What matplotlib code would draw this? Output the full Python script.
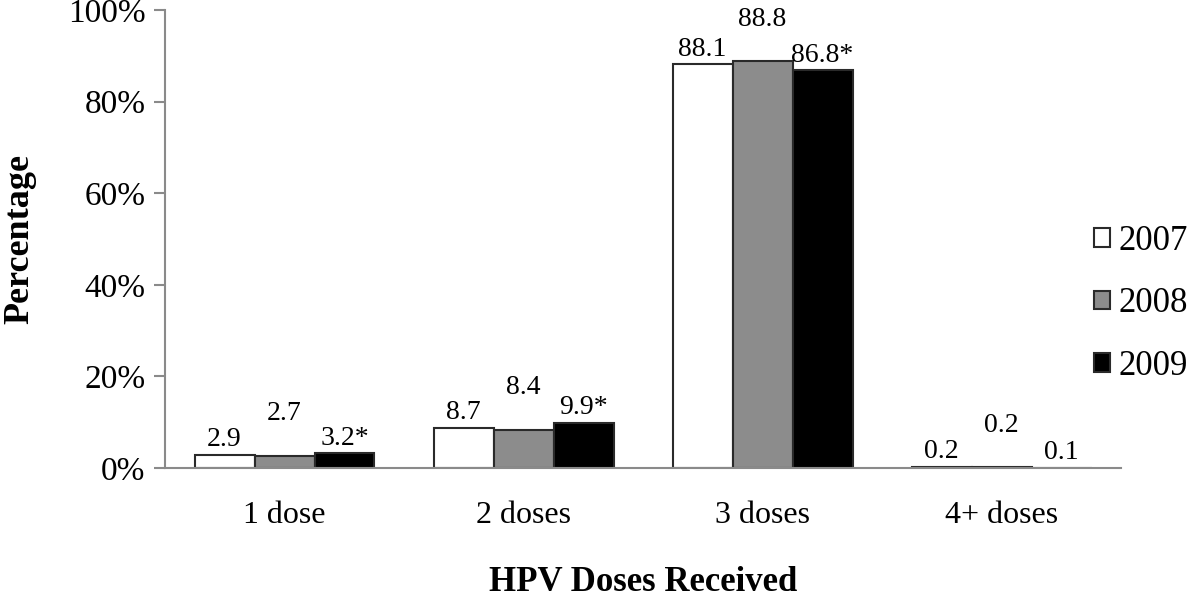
import numpy as np
import matplotlib
matplotlib.use("Agg")
from matplotlib import pyplot as plt
from matplotlib.patches import Patch

plt.rcParams["font.family"] = ["Liberation Serif", "DejaVu Serif"]

categories = ["1 dose", "2 doses", "3 doses", "4+ doses"]
years = ["2007", "2008", "2009"]
pct_2007 = [2.9, 8.7, 88.1, 0.2]
pct_2008 = [2.7, 8.4, 88.8, 0.2]
pct_2009 = [3.2, 9.9, 86.8, 0.1]
labels_2007 = ["2.9", "8.7", "88.1", "0.2"]
labels_2008 = ["2.7", "8.4", "88.8", "0.2"]
labels_2009 = ["3.2*", "9.9*", "86.8*", "0.1"]

series = [pct_2007, pct_2008, pct_2009]
series_labels = [labels_2007, labels_2008, labels_2009]
fills = ["white", "#8c8c8c", "black"]
edge = "#2a2a2a"
axis_grey = "#8a8a8a"

fig = plt.figure(figsize=(12, 5.98), dpi=100)
ax = fig.add_axes([0.1375, 0.2174, 0.7967, 0.7659])

x = np.arange(len(categories))
width = 0.251
for i, (vals, labs, fc) in enumerate(zip(series, series_labels, fills)):
    pos = x + (i - 1) * width
    ax.bar(pos, vals, width, color=fc, edgecolor=edge, linewidth=1.5, zorder=2)
    # middle series labels are staggered upward
    lift = 21 if i == 1 else 2
    for px, v, t in zip(pos, vals, labs):
        ax.annotate(t, (px, v), xytext=(0, lift), textcoords="offset points",
                    ha="center", va="bottom", fontsize=20)

ax.set_xlim(-0.5, len(categories) - 0.5)
ax.set_ylim(0, 100)
ax.set_yticks(np.arange(0, 101, 20))
ax.set_yticklabels([f"{v}%" for v in range(0, 101, 20)])
ax.set_xticks(x)
ax.set_xticklabels(categories)

for s in ["top", "right"]:
    ax.spines[s].set_visible(False)
for s in ["left", "bottom"]:
    ax.spines[s].set_color(axis_grey)
    ax.spines[s].set_linewidth(1.5)
ax.tick_params(axis="y", length=8, width=1.5, color=axis_grey, labelsize=24, pad=6)
ax.tick_params(axis="x", length=0, labelsize=23, pad=24)

ax.set_xlabel("HPV Doses Received", fontsize=25, fontweight="bold", labelpad=26)
ax.set_ylabel("Percentage", fontsize=26, fontweight="bold")
ax.yaxis.set_label_coords(-0.1345, 0.5)

handles = [Patch(facecolor=fc, edgecolor=edge, linewidth=1.5) for fc in fills]
fig.legend(handles, years, loc="center left", bbox_to_anchor=(0.912, 0.492),
           frameon=False, fontsize=25, handlelength=0.45, handleheight=0.45,
           handletextpad=0.25, labelspacing=0.85, borderpad=0, borderaxespad=0)

fig.savefig("out.png", dpi=100)
